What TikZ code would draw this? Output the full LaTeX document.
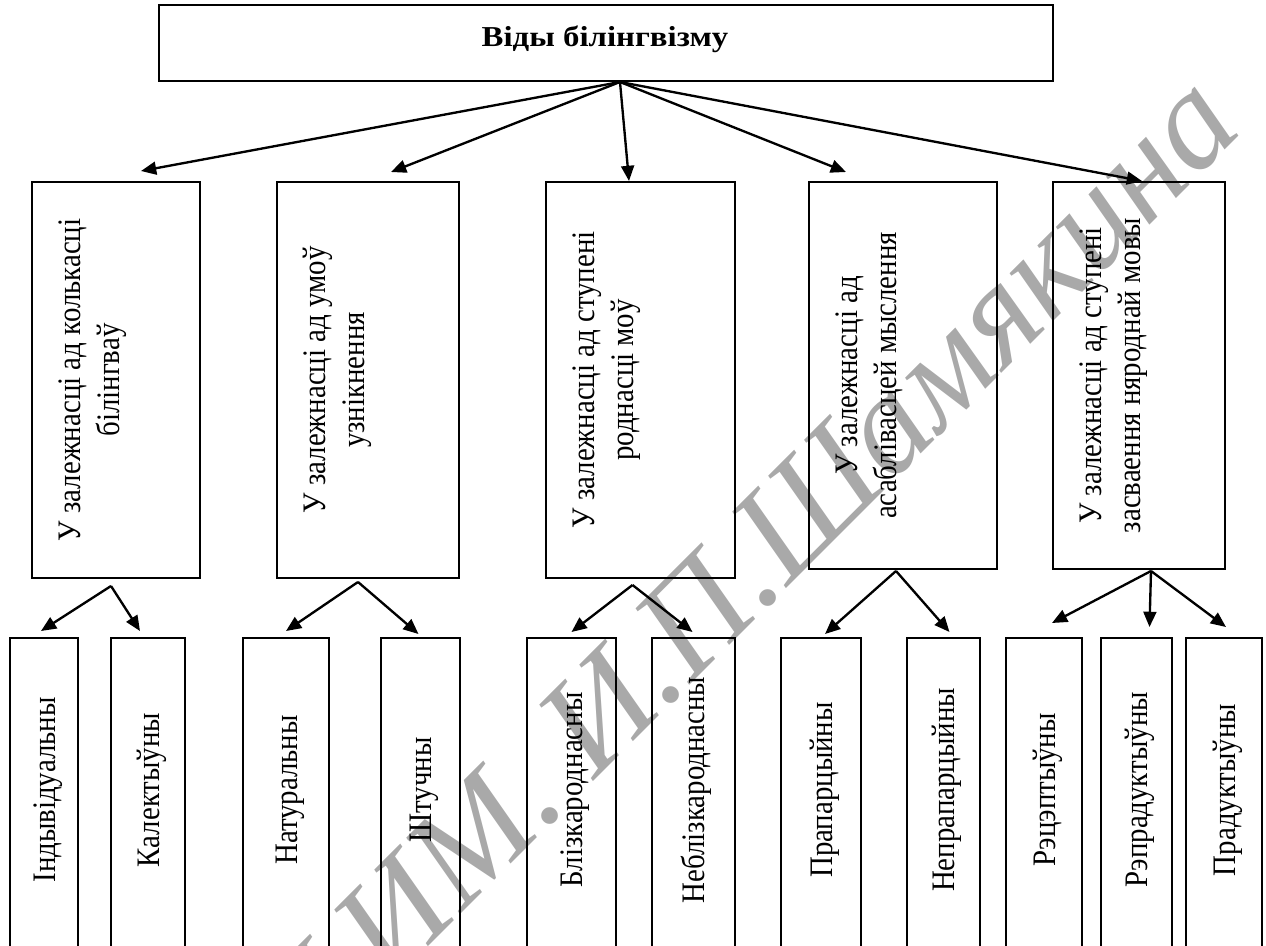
\documentclass[tikz,border=0pt]{standalone}
\usepackage{fontspec}
\setmainfont{Liberation Serif}
\usetikzlibrary{arrows.meta,fit,calc}
\definecolor{vbInk}{HTML}{000000}
\definecolor{vbMark}{HTML}{A9A9A9}
\newcommand{\vbsize}{\fontsize{14}{16.6}\selectfont}
\tikzset{
  vb box/.style={draw=vbInk, line width=0.85pt, inner sep=0pt},
  vb title/.style={yscale=0.88, font=\vbsize\bfseries, text=vbInk, inner sep=0pt},
  vb text/.style={yscale=0.88, rotate=90, font=\vbsize, align=center, inner sep=0pt, text=vbInk},
  vb link/.style={draw=vbInk, line width=1pt, -{Triangle[length=6.5pt,width=5.5pt]}},
  vb mark/.style={rotate=45, font=\fontsize{60}{60}\selectfont\itshape, text=vbMark, inner sep=0pt},
}

\begin{document}
\begin{tikzpicture}[x=0.15mm, y=-0.15mm]
  \useasboundingbox (0,0) rectangle (1266,946);
  \clip (0,0) rectangle (1266,946);

  % watermark of the source
  \node[vb mark, anchor=base east] (mark) at (1246,129) {МГПУ ИМ. И.П.Шамякина};

  % top box
  \node[vb box, fit={(159,5) (1053,81)}] (root) {};
  \node[vb title, anchor=base] (title) at (605,46) {Віды білінгвізму};

  % middle row: the five criteria
  \node[vb box, fit={(32,182) (200,578)}] (m1) {};
  \node[vb box, fit={(277,182) (459,578)}] (m2) {};
  \node[vb box, fit={(546,182) (735,578)}] (m3) {};
  \node[vb box, fit={(809,182) (997,569)}] (m4) {};
  \node[vb box, fit={(1053,182) (1225,569)}] (m5) {};
  \node[vb text, anchor=north] (m1t) at ($(m1.west)+(27,0)$) {У залежнасці ад колькасці\\білінгваў};
  \node[vb text, anchor=north] (m2t) at ($(m2.west)+(27,0)$) {У залежнасці ад умоў\\узнікнення};
  \node[vb text, anchor=north] (m3t) at ($(m3.west)+(27,0)$) {У залежнасці ад ступені\\роднасці моў};
  \node[vb text, anchor=north] (m4t) at ($(m4.west)+(27,0)$) {У залежнасці ад\\асаблівасцей мыслення};
  \node[vb text, anchor=north] (m5t) at ($(m5.west)+(27,0)$) {У залежнасці ад ступені\\засваення няроднай мовы};

  % bottom row: the kinds (cut by the page edge)
  \node[vb box, fit={(10,638) (78,960)}] (l1) {};
  \node[vb box, fit={(111,638) (185,960)}] (l2) {};
  \node[vb box, fit={(243,638) (329,960)}] (l3) {};
  \node[vb box, fit={(381,638) (460,960)}] (l4) {};
  \node[vb box, fit={(527,638) (616,960)}] (l5) {};
  \node[vb box, fit={(652,638) (735,960)}] (l6) {};
  \node[vb box, fit={(781,638) (861,960)}] (l7) {};
  \node[vb box, fit={(907,638) (980,960)}] (l8) {};
  \node[vb box, fit={(1006,638) (1082,960)}] (l9) {};
  \node[vb box, fit={(1101,638) (1172,960)}] (l10) {};
  \node[vb box, fit={(1186,638) (1262,960)}] (l11) {};
  \foreach \l/\txt in {l1/Індывідуальны, l2/Калектыўны, l3/Натуральны, l4/Штучны,
      l5/Блізкароднасны, l6/Неблізкароднасны, l7/Прапарцыйны, l8/Непрапарцыйны,
      l9/Рэцэптыўны, l10/Рэпрадуктыўны, l11/Прадуктыўны}
    \node[vb text, anchor=base] (\l t) at ($(\l.north)+(11,153)$) {\txt};

  % arrows from the top box
  \coordinate (hub) at ($(root.south)+(14,0)$);
  \foreach \b/\dx/\dy in {m1/110/-10, m2/115/-9, m3/84/0, m4/38/-9, m5/90/0}
    \draw[vb link] (hub) -- ($(\b.north west)+(\dx,\dy)$);

  % arrows down to the kinds
  \coordinate (f1) at ($(m1.south)+(-5,7)$);
  \coordinate (f2) at ($(m2.south)+(-10,3)$);
  \coordinate (f3) at ($(m3.south)+(-8,6)$);
  \coordinate (f4) at ($(m4.south)+(-7,1)$);
  \coordinate (f5) at ($(m5.south)+(12,1)$);
  \foreach \f/\l/\dx/\dy in {f1/l1/-3/-6, f1/l2/-8/-6, f2/l3/0/-6, f2/l4/-2/-3,
      f3/l5/0/-5, f3/l6/-1/-5, f4/l7/4/-3, f4/l8/6/-5,
      f5/l9/8/-14, f5/l10/13/-10, f5/l11/2/-10}
    \draw[vb link] (\f) -- ($(\l.north)+(\dx,\dy)$);
\end{tikzpicture}
\end{document}
